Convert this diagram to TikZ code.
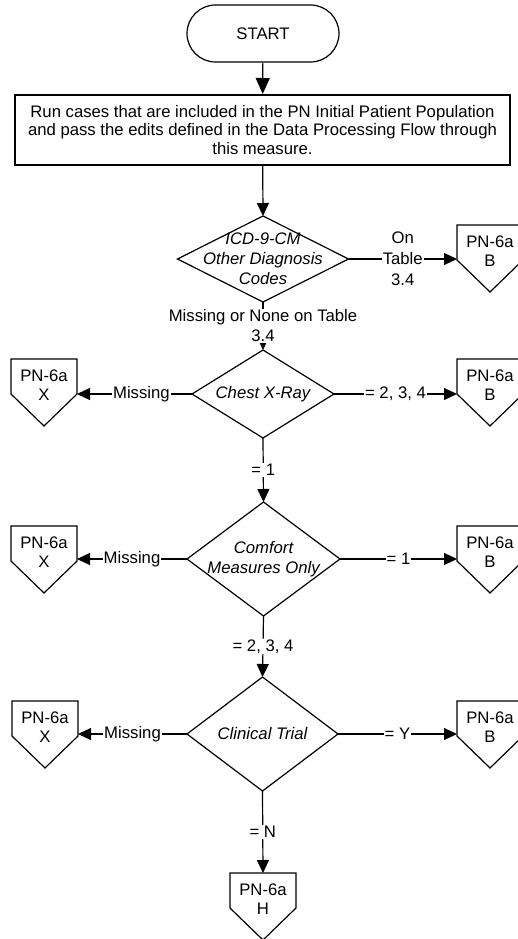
\documentclass[tikz,border=0pt]{standalone}
\usepackage{fontspec}
\setmainfont{Liberation Sans}
\usetikzlibrary{arrows.meta,shapes.geometric,shapes.misc,calc}
\tikzset{
  ln/.style={line width=1.2pt},
  arr/.style={ln,-{Triangle[length=13pt,width=12pt]}},
  bigarr/.style={ln,-{Triangle[length=16pt,width=14pt]}},
  dia/.style={diamond, draw, ln, inner sep=0pt, outer sep=0pt},
  dtxt/.style={font=\fontsize{16.7}{20}\selectfont\itshape, align=center},
  lbl/.style={font=\fontsize{16.7}{20}\selectfont, align=center, fill=white, inner sep=1pt},
  ctxt/.style={font=\fontsize{16.7}{18.5}\selectfont, align=center, inner sep=0pt},
  opc/.style={rectangle, minimum width=66pt, minimum height=67pt, inner sep=0pt, outer sep=0pt},
}
\newcommand\opconn[4]{%
  \node[opc] (#1) at (#2+33, #3+33.5) {};
  \draw[ln, fill=white] (#1.north west) -- (#1.north east) -- ($(#1.north east)+(0,35)$)
    -- (#1.south) -- ($(#1.north west)+(0,35)$) -- cycle;
  \node[ctxt] at ($(#1.north)+(0,26)$) {PN-6a\\#4};
}
\begin{document}
\begin{tikzpicture}[x=1pt,y=-1pt]
\useasboundingbox (0,0) rectangle (517,939);

\node[rounded rectangle, draw, ln, minimum width=152pt, minimum height=57pt, inner sep=0pt,
  font=\fontsize{16.7}{20}\selectfont] (start) at (263,33.5) {START};

\node[draw, line width=2pt, minimum width=495pt, minimum height=70pt, inner sep=0pt, align=center,
  font=\fontsize{16.7}{18.5}\selectfont] (run) at (262.5,130)
  {Run cases that are included in the PN Initial Patient Population\\
   and pass the edits defined in the Data Processing Flow through\\
   this measure.};

\node[dia, minimum width=171pt, minimum height=86pt,
  label={[dtxt]center:{ICD-9-CM\\Other Diagnosis\\Codes}}] (icd) at (263,259) {};
\node[dia, minimum width=142pt, minimum height=88pt,
  label={[dtxt]center:{Chest X-Ray}}] (chest) at (263,394) {};
\node[dia, minimum width=153pt, minimum height=114pt,
  label={[dtxt]center:{Comfort\\Measures Only}}] (comfort) at (263.5,559) {};
\node[dia, minimum width=151pt, minimum height=114pt,
  label={[dtxt]center:{Clinical Trial}}] (clin) at (262.5,734) {};

\opconn{bicd}{457}{225}{B}
\opconn{cx}{11}{359}{X}
\opconn{cb}{457}{359}{B}
\opconn{mx}{11}{526}{X}
\opconn{mb}{457}{526}{B}
\opconn{kx}{12}{701}{X}
\opconn{kb}{457}{701}{B}
\opconn{hh}{230}{873}{H}

\draw[bigarr] (start) -- (run);
\draw[arr] (run) -- (icd.north);
\draw[arr] (icd.east) -- (icd.east -| bicd.west) node[lbl, midway, font=\fontsize{16.7}{21}\selectfont] {On\\Table\\3.4};
\draw[arr] (icd.south) -- (chest.north) node[lbl, midway] {Missing or None on Table\\3.4};

\draw[arr] (chest.west) -- (chest.west -| cx.east) node[lbl, pos=0.44] {Missing};
\draw[arr] (chest.east) -- (chest.east -| cb.west) node[lbl, midway] {= 2, 3, 4};
\draw[arr] (chest.south) -- (comfort.north) node[lbl, midway] {= 1};

\draw[arr] (comfort.west) -- (comfort.west -| mx.east) node[lbl, midway] {Missing};
\draw[arr] (comfort.east) -- (comfort.east -| mb.west) node[lbl, midway] {= 1};
\draw[arr] (comfort.south) -- (clin.north) node[lbl, midway] {= 2, 3, 4};

\draw[arr] (clin.west) -- (clin.west -| kx.east) node[lbl, midway] {Missing};
\draw[arr] (clin.east) -- (clin.east -| kb.west) node[lbl, midway] {= Y};
\draw[arr] (clin.south) -- (hh.north) node[lbl, midway] {= N};
\end{tikzpicture}
\end{document}
